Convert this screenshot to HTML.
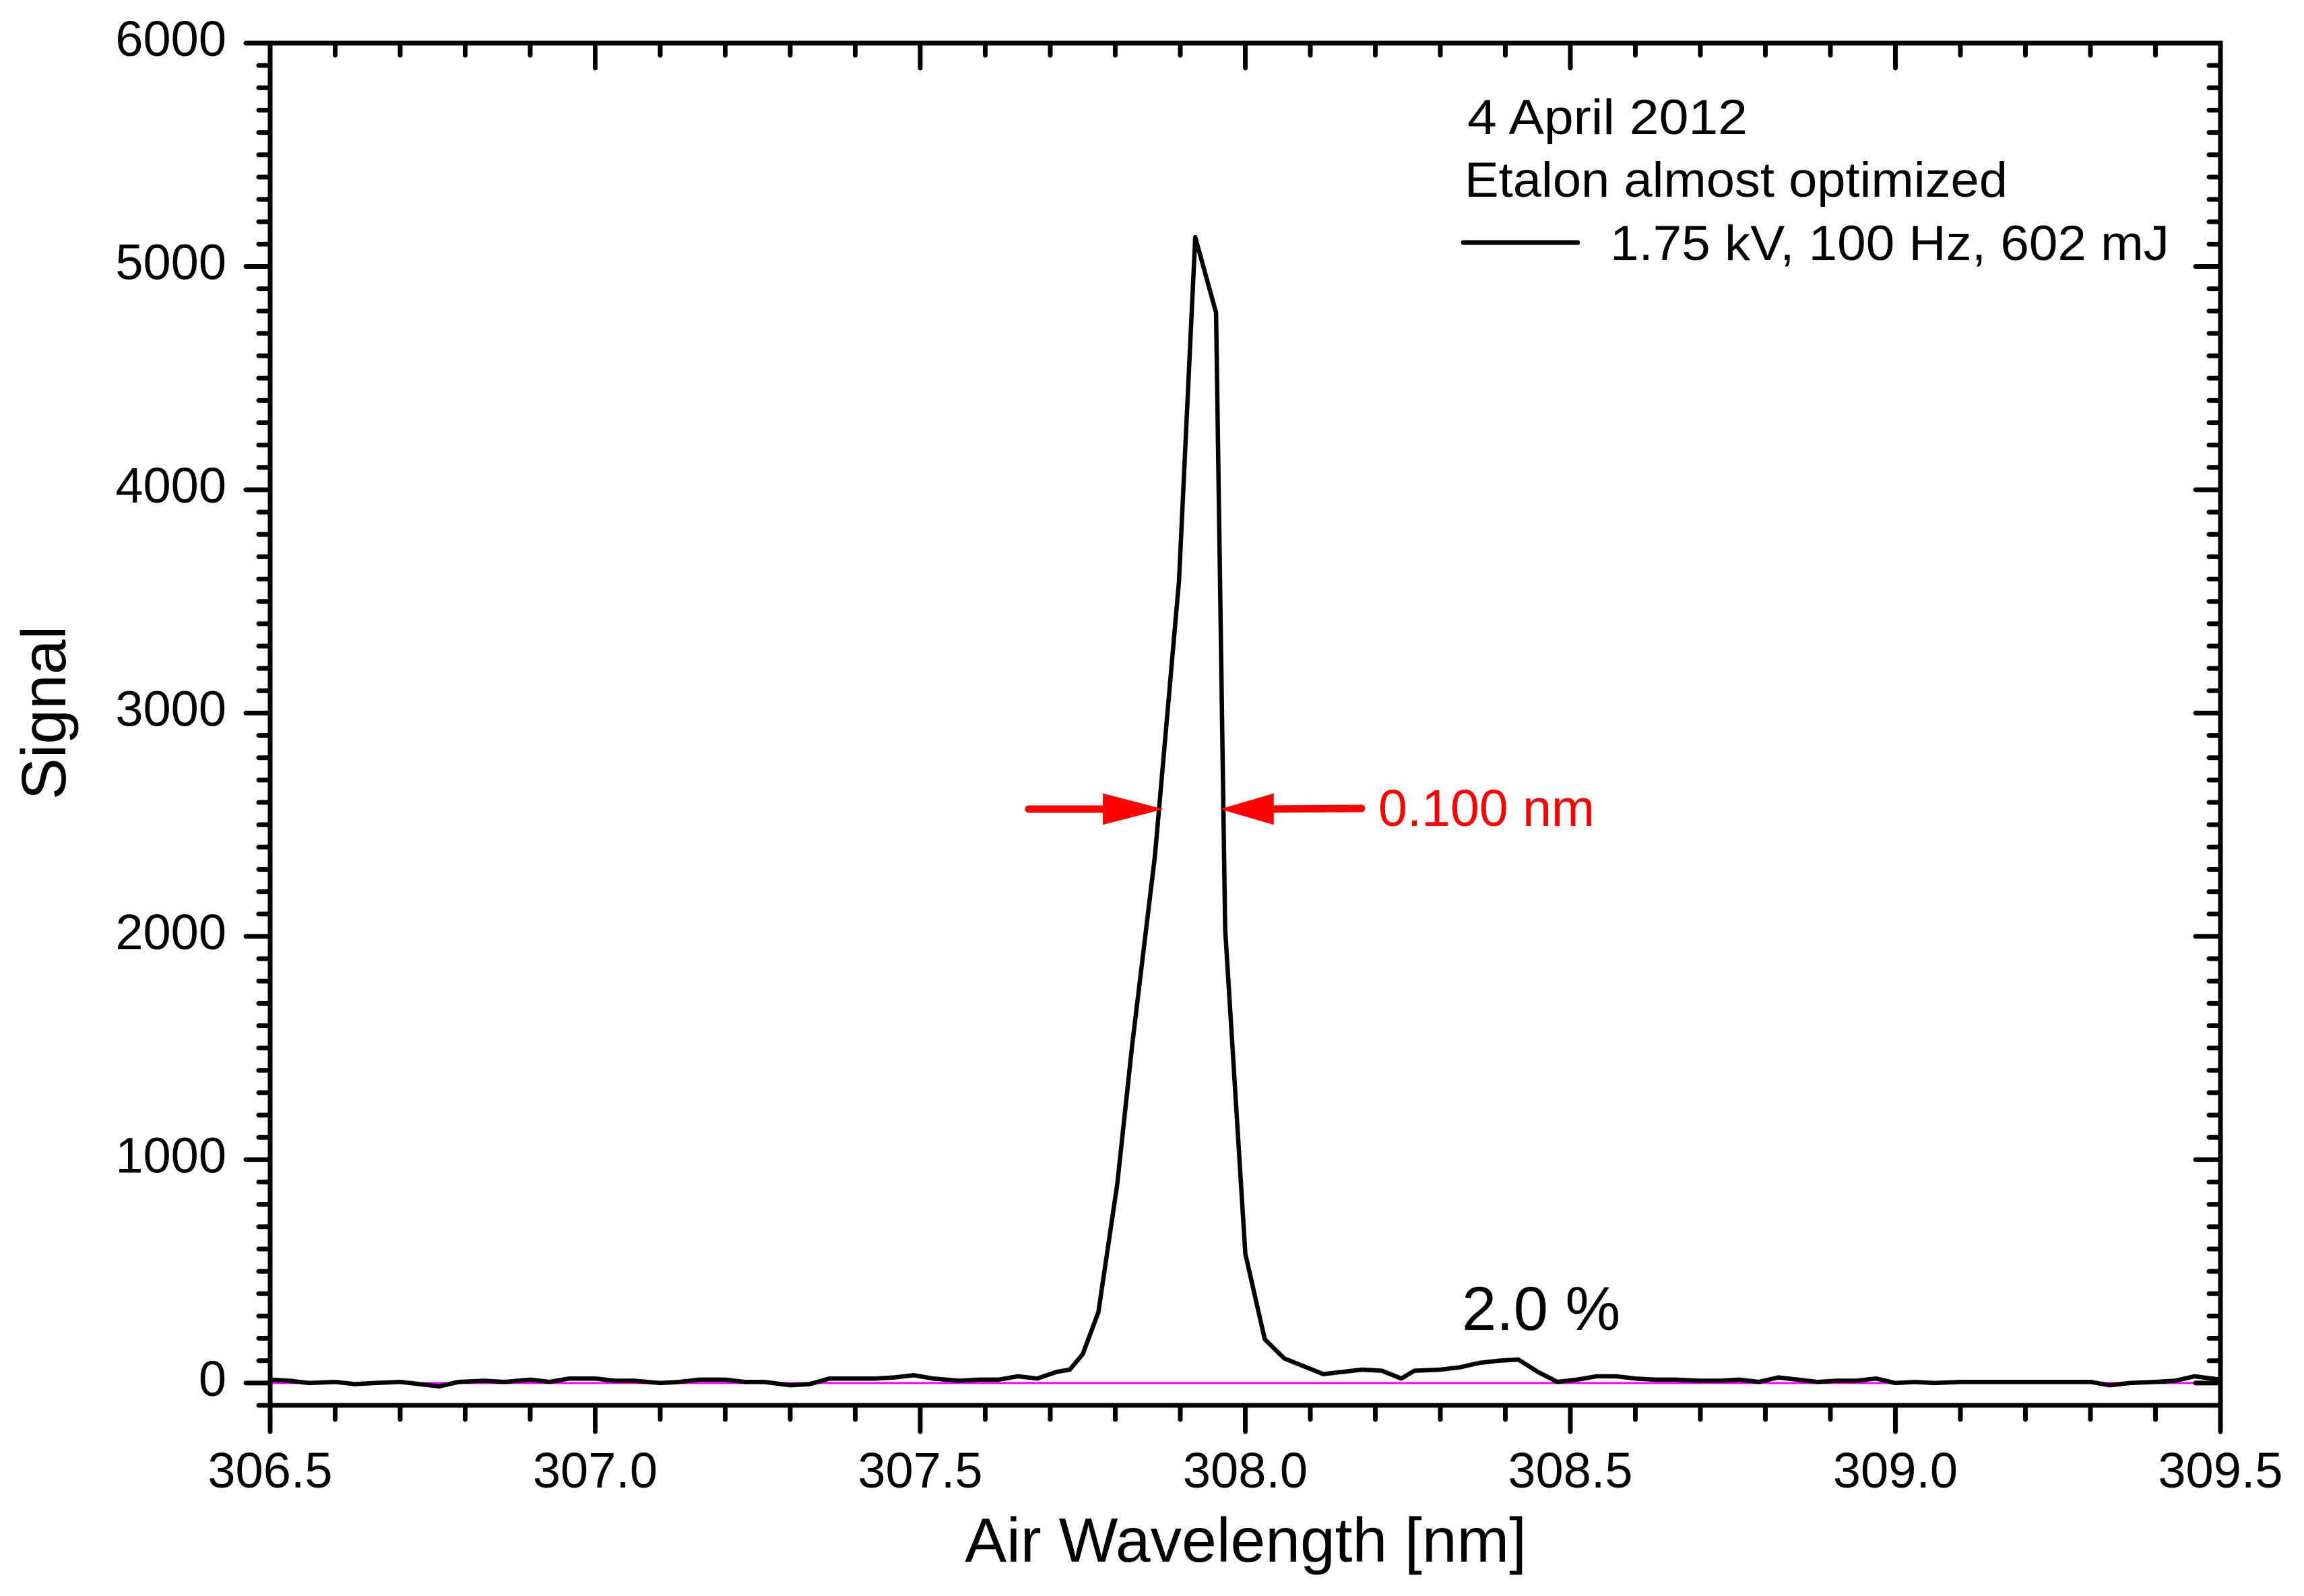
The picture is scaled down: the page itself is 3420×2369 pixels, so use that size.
<!DOCTYPE html>
<html><head><meta charset="utf-8"><style>
html,body{margin:0;padding:0;background:#fff;}
svg{display:block;}
text{font-family:"Liberation Sans",Arial,sans-serif;}
</style></head><body>
<svg id="chart" width="3420" height="2369" viewBox="0 0 3420 2369" xmlns="http://www.w3.org/2000/svg">
<rect x="0" y="0" width="3420" height="2369" fill="#fff"/>
<g id="grid"></g>
<g id="series"></g>
<g id="axes"></g>
<g id="labels"></g>
<g id="annot"></g>
</svg>
<script>
const wavelengths = [306.5,306.53,306.56,306.6,306.63,306.66,306.7,306.73,306.76,306.79,306.83,306.86,306.9,306.93,306.96,307.0,307.03,307.06,307.1,307.13,307.16,307.2,307.23,307.26,307.3,307.33,307.36,307.4,307.43,307.46,307.49,307.52,307.56,307.59,307.62,307.65,307.68,307.71,307.73,307.75,307.774,307.803,307.826,307.861,307.898,307.923,307.955,307.969,308.0,308.03,308.06,308.12,308.15,308.18,308.21,308.24,308.26,308.3,308.33,308.36,308.39,308.42,308.45,308.48,308.51,308.54,308.57,308.6,308.63,308.66,308.7,308.73,308.76,308.79,308.82,308.85,308.88,308.91,308.94,308.97,309.0,309.03,309.06,309.1,309.13,309.16,309.2,309.23,309.26,309.3,309.33,309.36,309.4,309.43,309.46,309.5];
const signal = [15,10,0,5,-5,0,5,-5,-15,5,10,5,15,5,20,20,10,10,0,5,15,15,5,5,-10,-5,20,20,20,25,35,20,10,15,15,30,20,50,60,130,317,890,1514,2362,3593,5131,4793,2033,579,196,110,40,50,60,55,20,55,60,70,90,100,105,50,5,15,30,30,20,15,15,10,10,15,5,25,15,5,10,10,20,0,5,0,5,5,5,5,5,5,5,-10,0,5,10,30,15];
const xTickLabels = ["306.5","307.0","307.5","308.0","308.5","309.0","309.5"];
const xTickValues = [306.5,307.0,307.5,308.0,308.5,309.0,309.5];
const yTickLabels = ["0","1000","2000","3000","4000","5000","6000"];
const yTickValues = [0,1000,2000,3000,4000,5000,6000];
const fwhmLevel = [2570];
const fwhmEdges = [307.87, 307.965];

const L=401,R=3296,T=64,B=2086;
const xMin=306.5,xMax=309.5,yMin=-100,yMax=6000;
const xs=v=>L+(v-xMin)/(xMax-xMin)*(R-L);
const ys=v=>B-(v-yMin)/(yMax-yMin)*(B-T);
const NS="http://www.w3.org/2000/svg";
function mk(tag,attrs,parent){const e=document.createElementNS(NS,tag);for(const k in attrs)e.setAttribute(k,attrs[k]);parent.appendChild(e);return e;}
const gS=document.getElementById('series'),gA=document.getElementById('axes'),gL=document.getElementById('labels'),gN=document.getElementById('annot');

let zl=mk('line',{x1:L,x2:R,y1:ys(0),y2:ys(0),stroke:'#ff00ff','stroke-width':3},gS);


let d=wavelengths.map((w,i)=>(i?'L':'M')+xs(w).toFixed(1)+' '+ys(signal[i]).toFixed(1)).join(' ');
let p=mk('path',{d:d,fill:'none',stroke:'#000','stroke-width':6.5,'stroke-linejoin':'round'},gS);



const tk={stroke:'#000','stroke-width':7,'stroke-linecap':'round'};
for(let i=0;i<=30;i++){const v=xMin+i*0.1;const x=xs(v);const maj=i%5===0;
 let a=mk('line',Object.assign({x1:x,x2:x,y1:B,y2:B+(maj?39:21)},tk),gA);
 
 
 let b=mk('line',Object.assign({x1:x,x2:x,y1:T,y2:T+(maj?37:18)},tk),gA);
 
 }
for(let i=0;i<=61;i++){const v=yMin+i*100;const y=ys(v);const maj=(v%1000===0);
 let a=mk('line',Object.assign({x1:L-(maj?36:17),x2:L,y1:y,y2:y},tk),gA);
 
 
 let b=mk('line',Object.assign({x1:R,x2:R-(maj?37:17),y1:y,y2:y},tk),gA);
 
 }
let fr=mk('rect',{x:L,y:T,width:R-L,height:B-T,fill:'none',stroke:'#000','stroke-width':7},gA);



xTickValues.forEach((v,i)=>{let t=mk('text',{x:xs(v),y:2208,'font-size':74,'text-anchor':'middle'},gL);t.textContent=xTickLabels[i];
 
 });
yTickValues.forEach((v,i)=>{let t=mk('text',{x:336,y:ys(v)+19,'font-size':74,'text-anchor':'end'},gL);t.textContent=yTickLabels[i];
 
 });

const ay=ys(fwhmLevel[0]);
const xl=xs(fwhmEdges[0]), xr=xs(fwhmEdges[1]);
let la=mk('g',{fill:'#ff0000',stroke:'#ff0000'},gN);


mk('line',{x1:1527,x2:xl-60,y1:ay,y2:ay,'stroke-width':11,'stroke-linecap':'round'},la);
mk('polygon',{points:`${xl-85},${ay-22} ${xl},${ay} ${xl-85},${ay+22}`,'stroke-width':2},la);
let ra=mk('g',{fill:'#ff0000',stroke:'#ff0000'},gN);


mk('line',{x1:xr+60,x2:2021,y1:ay,y2:ay-1,'stroke-width':11,'stroke-linecap':'round'},ra);
mk('polygon',{points:`${xr+75},${ay-22} ${xr},${ay} ${xr+75},${ay+22}`,'stroke-width':2},ra);
</script>
<script>
const svg=document.getElementById('chart');
const NS2="http://www.w3.org/2000/svg";
function txt(s,x,y,size,attrs){const t=document.createElementNS(NS2,'text');t.setAttribute('x',x);t.setAttribute('y',y);t.setAttribute('font-size',size);for(const k in attrs)t.setAttribute(k,attrs[k]);t.textContent=s;svg.appendChild(t);return t;}
let t1=txt('0.100 nm',2046,1226,77,{fill:'#ff0000'});


let t2=txt('2.0 %',2170,1974,92,{});


let t3=txt('4 April 2012',2178,199,73,{textLength:416,lengthAdjust:'spacingAndGlyphs'});


let t4=txt('Etalon almost optimized',2174,292,73,{textLength:806,lengthAdjust:'spacingAndGlyphs'});


let ll=document.createElementNS(NS2,'line');
ll.setAttribute('x1',2172);ll.setAttribute('x2',2342);ll.setAttribute('y1',360);ll.setAttribute('y2',360);
ll.setAttribute('stroke','#000');ll.setAttribute('stroke-width',7);ll.setAttribute('stroke-linecap','round');svg.appendChild(ll);


let t5=txt('1.75 kV, 100 Hz, 602 mJ',2390,386,73,{textLength:830,lengthAdjust:'spacingAndGlyphs'});


let t6=txt('Air Wavelength [nm]',1849,2318,93,{'text-anchor':'middle'});


let t7=txt('Signal',0,0,93,{'text-anchor':'middle',transform:'translate(97,1058) rotate(-90)'});


</script>
</body></html>
